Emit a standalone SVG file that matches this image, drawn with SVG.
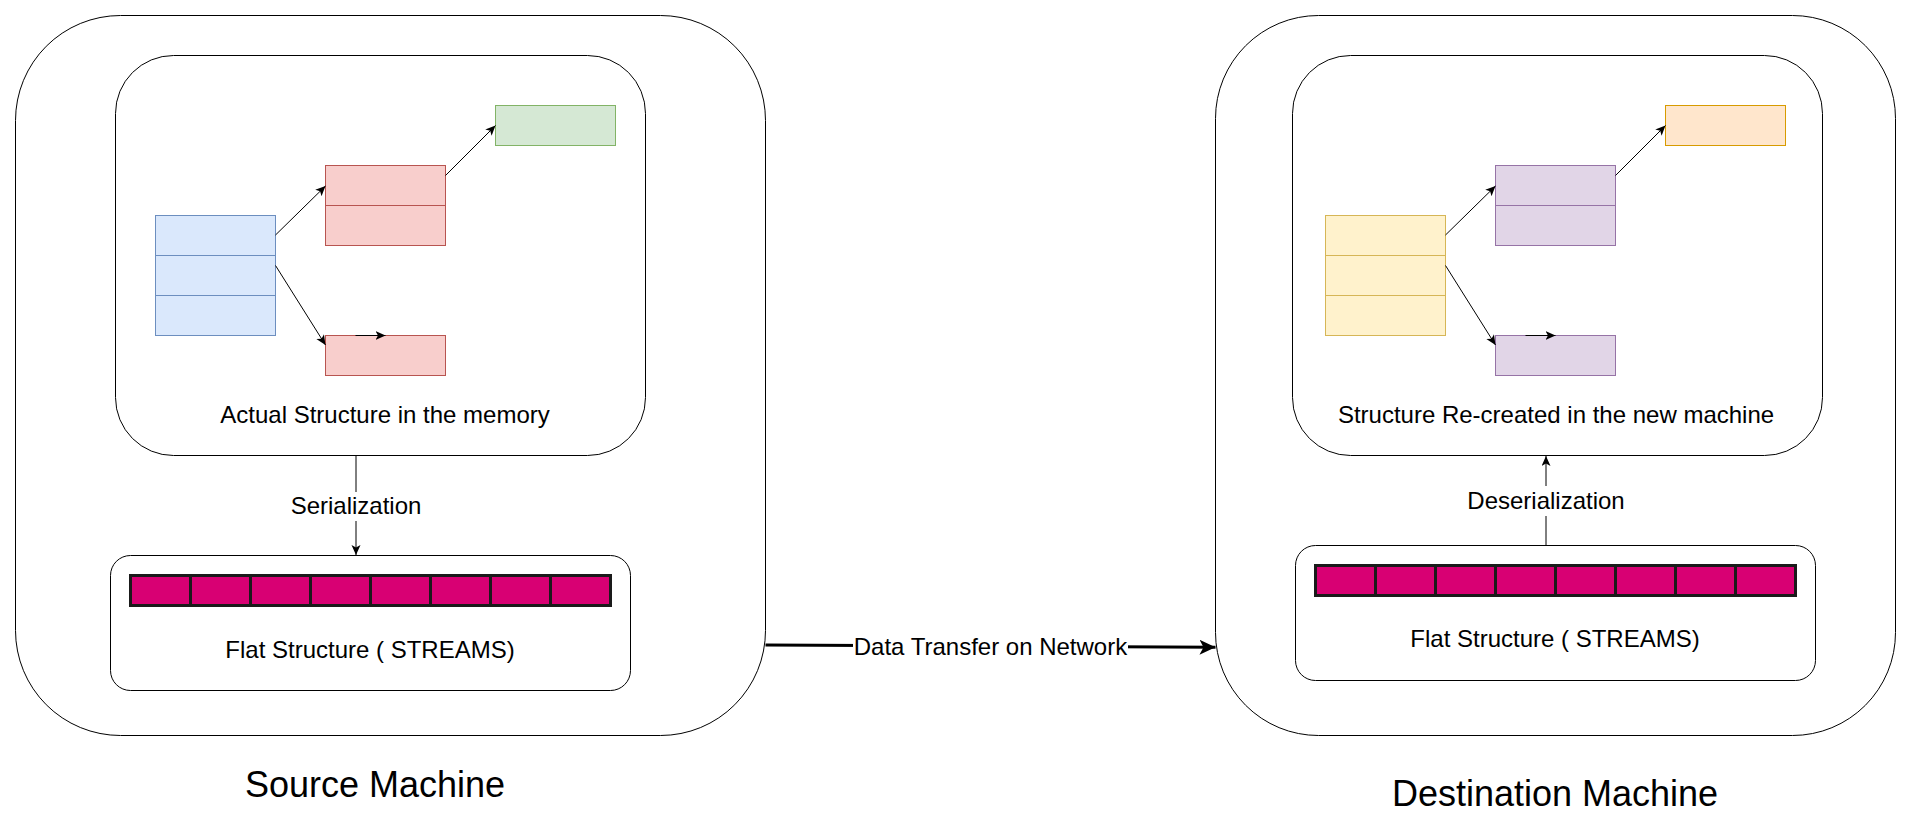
<svg xmlns="http://www.w3.org/2000/svg" width="1911" height="840" viewBox="0 0 1911 840">
<defs>
<style>
.box{fill:#fff;stroke:#000;stroke-width:1}
.t{font-family:"Liberation Sans",Arial,sans-serif;fill:#000;text-anchor:middle}
.t24{font-size:24px}
.t36{font-size:36px}
.blue{fill:#dae8fc;stroke:#6c8ebf;stroke-width:1}
.red{fill:#f8cecc;stroke:#b85450;stroke-width:1}
.green{fill:#d5e8d4;stroke:#82b366;stroke-width:1}
.yellow{fill:#fff2cc;stroke:#d6b656;stroke-width:1}
.purple{fill:#e1d5e7;stroke:#9673a6;stroke-width:1}
.orange{fill:#ffe6cc;stroke:#d79b00;stroke-width:1}
.cell{fill:#d80073;stroke:#1a1a1a;stroke-width:3}
.conn{fill:none;stroke:#000;stroke-width:1}
.thick{fill:none;stroke:#000;stroke-width:3}
</style>
<marker id="arr" markerUnits="userSpaceOnUse" markerWidth="12" markerHeight="10" refX="10" refY="4.5" orient="auto">
<path d="M0,0 L10,4.5 L0,9 L2.5,4.5 z" fill="#000"/>
</marker>
<marker id="arrBig" markerUnits="userSpaceOnUse" markerWidth="18" markerHeight="16" refX="16" refY="7.5" orient="auto">
<path d="M0,0 L16,7.5 L0,15 L4,7.5 z" fill="#000"/>
</marker>
</defs>
<rect width="1911" height="840" fill="#fff"/>

<g id="source-machine">
<rect class="box" x="15.5" y="15.5" width="750" height="720" rx="105" ry="105"/>
<text class="t t36" x="375" y="797">Source Machine</text>
</g>

<g id="destination-machine">
<rect class="box" x="1215.5" y="15.5" width="680" height="720" rx="103" ry="103"/>
<text class="t t36" x="1555" y="806">Destination Machine</text>
</g>

<g id="memory-structure">
<rect class="box" x="115.5" y="55.5" width="530" height="400" rx="58" ry="58"/>
<text class="t t24" x="385" y="423">Actual Structure in the memory</text>
</g>
<g id="src-table">
<rect class="blue" x="155.5" y="215.5" width="120" height="40"/>
<rect class="blue" x="155.5" y="255.5" width="120" height="40"/>
<rect class="blue" x="155.5" y="295.5" width="120" height="40"/>
</g>
<g id="src-node-a">
<rect class="red" x="325.5" y="165.5" width="120" height="40"/>
<rect class="red" x="325.5" y="205.5" width="120" height="40"/>
</g>
<g id="src-node-b">
<rect class="red" x="325.5" y="335.5" width="120" height="40"/>
</g>
<g id="src-node-c">
<rect class="green" x="495.5" y="105.5" width="120" height="40"/>
</g>

<g id="src-flat">
<rect class="box" x="110.5" y="555.5" width="520" height="135" rx="20" ry="20"/>
<rect class="cell" x="130.5" y="575.5" width="60" height="30"/>
<rect class="cell" x="190.5" y="575.5" width="60" height="30"/>
<rect class="cell" x="250.5" y="575.5" width="60" height="30"/>
<rect class="cell" x="310.5" y="575.5" width="60" height="30"/>
<rect class="cell" x="370.5" y="575.5" width="60" height="30"/>
<rect class="cell" x="430.5" y="575.5" width="60" height="30"/>
<rect class="cell" x="490.5" y="575.5" width="60" height="30"/>
<rect class="cell" x="550.5" y="575.5" width="60" height="30"/>
<text class="t t24" x="370" y="658">Flat Structure ( STREAMS)</text>
</g>

<g id="recreated-structure">
<rect class="box" x="1292.5" y="55.5" width="530" height="400" rx="58" ry="58"/>
<text class="t t24" x="1556" y="423">Structure Re-created in the new machine</text>
</g>
<g id="dst-table">
<rect class="yellow" x="1325.5" y="215.5" width="120" height="40"/>
<rect class="yellow" x="1325.5" y="255.5" width="120" height="40"/>
<rect class="yellow" x="1325.5" y="295.5" width="120" height="40"/>
</g>
<g id="dst-node-a">
<rect class="purple" x="1495.5" y="165.5" width="120" height="40"/>
<rect class="purple" x="1495.5" y="205.5" width="120" height="40"/>
</g>
<g id="dst-node-b">
<rect class="purple" x="1495.5" y="335.5" width="120" height="40"/>
</g>
<g id="dst-node-c">
<rect class="orange" x="1665.5" y="105.5" width="120" height="40"/>
</g>

<g id="dst-flat">
<rect class="box" x="1295.5" y="545.5" width="520" height="135" rx="20" ry="20"/>
<rect class="cell" x="1315.5" y="565.5" width="60" height="30"/>
<rect class="cell" x="1375.5" y="565.5" width="60" height="30"/>
<rect class="cell" x="1435.5" y="565.5" width="60" height="30"/>
<rect class="cell" x="1495.5" y="565.5" width="60" height="30"/>
<rect class="cell" x="1555.5" y="565.5" width="60" height="30"/>
<rect class="cell" x="1615.5" y="565.5" width="60" height="30"/>
<rect class="cell" x="1675.5" y="565.5" width="60" height="30"/>
<rect class="cell" x="1735.5" y="565.5" width="60" height="30"/>
<text class="t t24" x="1555" y="647">Flat Structure ( STREAMS)</text>
</g>

<g id="connectors">
<line class="conn" x1="275.5" y1="235" x2="325.5" y2="186" marker-end="url(#arr)"/>
<line class="conn" x1="275.5" y1="265.5" x2="325.5" y2="345" marker-end="url(#arr)"/>
<line class="conn" x1="445.5" y1="175.5" x2="495.5" y2="125.5" marker-end="url(#arr)"/>
<line class="conn" x1="355.5" y1="335.5" x2="385.5" y2="335.5" marker-end="url(#arr)"/>

<line class="conn" x1="1445.5" y1="235" x2="1495.5" y2="186" marker-end="url(#arr)"/>
<line class="conn" x1="1445.5" y1="265.5" x2="1495.5" y2="345" marker-end="url(#arr)"/>
<line class="conn" x1="1615.5" y1="175.5" x2="1665.5" y2="125.5" marker-end="url(#arr)"/>
<line class="conn" x1="1525.5" y1="335.5" x2="1555.5" y2="335.5" marker-end="url(#arr)"/>

<line class="conn" x1="356" y1="455.5" x2="356" y2="555" marker-end="url(#arr)"/>
<line class="conn" x1="1546" y1="545" x2="1546" y2="456" marker-end="url(#arr)"/>
<line class="thick" x1="765.5" y1="645" x2="1215.5" y2="647.3" marker-end="url(#arrBig)"/>

<g id="label-serialization">
<rect x="290" y="492" width="132" height="29" fill="#fff"/>
<text class="t t24" x="356" y="514">Serialization</text>
</g>
<g id="label-deserialization">
<rect x="1466" y="486" width="160" height="30" fill="#fff"/>
<text class="t t24" x="1546" y="509">Deserialization</text>
</g>
<g id="label-transfer">
<rect x="853" y="632" width="275" height="29" fill="#fff"/>
<text class="t t24" x="990.5" y="655">Data Transfer on Network</text>
</g>
</g>
</svg>
